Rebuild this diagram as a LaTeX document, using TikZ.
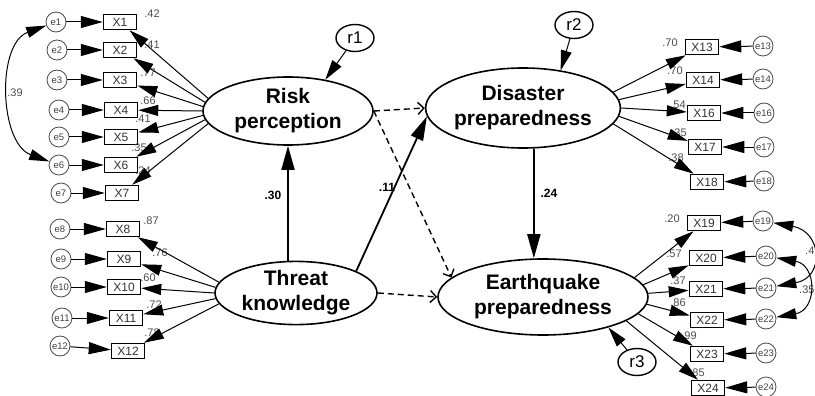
\documentclass[tikz,border=0pt]{standalone}
\usepackage{fontspec}
\setmainfont{Liberation Sans}
\usetikzlibrary{arrows.meta,shapes.geometric}
\begin{document}
\begin{tikzpicture}[x=1pt, y=-1pt,
    latent/.style ={ellipse, draw, line width=1.6pt, inner sep=0pt, align=center,
                    font=\fontsize{21}{25}\selectfont\bfseries},
    resid/.style ={ellipse, draw, line width=1.4pt, minimum width=38pt, minimum height=27pt,
                    inner sep=0pt, font=\fontsize{17}{17}\selectfont},
    item/.style ={rectangle, draw, line width=1.5pt, minimum width=33pt, minimum height=15pt,
                    inner sep=0pt, font=\fontsize{12}{12}\selectfont, text=black!80},
    err/.style ={circle, draw=black!70, line width=0.8pt, minimum size=20pt, inner sep=0pt,
                    font=\fontsize{9.5}{9.5}\selectfont, text=black!75},
    load/.style ={font=\fontsize{11}{11}\selectfont, text=black!70, inner sep=0pt},
    coef/.style ={font=\fontsize{12}{12}\selectfont\bfseries, inner sep=0pt},
    arr/.style ={line width=1pt, -{Triangle[length=20pt,width=11pt]}},
    earr/.style ={line width=1pt, -{Triangle[length=22pt,width=12pt]}},
    cov/.style ={line width=1pt, {Triangle[length=20pt,width=11pt]}-{Triangle[length=20pt,width=11pt]}},
    causal/.style ={line width=1.8pt, -{Triangle[length=24pt,width=13pt]}},
    dashpath/.style ={line width=1.4pt, dash pattern=on 6pt off 4pt,
                    -{Straight Barb[length=6pt,width=12pt]}}]
   \useasboundingbox (0,0) rectangle (815,396);

   % latent variables
   \node[latent, minimum width=170pt, minimum height=68pt] (Risk) at (288,111) {Risk\\perception};
   \node[latent, minimum width=162pt, minimum height=62pt] (Threat) at (296,293) {Threat\\knowledge};
   \node[latent, minimum width=180pt, minimum height=80pt] (Disaster) at (523,108) {Disaster\\preparedness};
   \node[latent, minimum width=210pt, minimum height=76pt] (Quake) at (543,297) {Earthquake\\preparedness};

   \node[resid] (r1) at (355,38) {r1};
   \node[resid] (r2) at (574,25) {r2};
   \node[resid] (r3) at (637,362) {r3};

   % risk perception items
   \node[item] (X1) at (120,22) {X1};
   \node[item] (X2) at (120,50) {X2};
   \node[item] (X3) at (120,80) {X3};
   \node[item] (X4) at (121,110) {X4};
   \node[item] (X5) at (121,137) {X5};
   \node[item] (X6) at (121,165) {X6};
   \node[item] (X7) at (122,193) {X7};
   \node[err] (e1) at (56,22) {e1};
   \node[err] (e2) at (57,50) {e2};
   \node[err] (e3) at (57,80) {e3};
   \node[err] (e4) at (59,110) {e4};
   \node[err] (e5) at (59,137) {e5};
   \node[err] (e6) at (59,165) {e6};
   \node[err] (e7) at (61,193) {e7};

   % threat knowledge items
   \node[item] (X8) at (123,229) {X8};
   \node[item] (X9) at (124,259) {X9};
   \node[item] (X10) at (124,287) {X10};
   \node[item] (X11) at (126,318) {X11};
   \node[item] (X12) at (128,351) {X12};
   \node[err] (e8) at (60,229) {e8};
   \node[err] (e9) at (61,259) {e9};
   \node[err] (e10) at (61,287) {e10};
   \node[err] (e11) at (62,318) {e11};
   \node[err] (e12) at (60,346) {e12};

   % disaster preparedness items
   \node[item] (X13) at (702,47) {X13};
   \node[item] (X14) at (703,80) {X14};
   \node[item] (X16) at (704,113) {X16};
   \node[item] (X17) at (705,147) {X17};
   \node[item] (X18) at (707,182) {X18};
   \node[err] (e13) at (763,46) {e13};
   \node[err] (e14) at (763,79) {e14};
   \node[err] (e16) at (764,113) {e16};
   \node[err] (e17) at (764,147) {e17};
   \node[err] (e18) at (764,181) {e18};

   % earthquake preparedness items
   \node[item] (X19) at (704,223) {X19};
   \node[item] (X20) at (706,258) {X20};
   \node[item] (X21) at (706,289) {X21};
   \node[item] (X22) at (707,320) {X22};
   \node[item] (X23) at (707,354) {X23};
   \node[item] (X24) at (708,388) {X24};
   \node[err] (e19) at (763,221) {e19};
   \node[err] (e20) at (766,256) {e20};
   \node[err] (e21) at (766,288) {e21};
   \node[err] (e22) at (766,319) {e22};
   \node[err] (e23) at (766,353) {e23};
   \node[err] (e24) at (766,387) {e24};

   % loadings
   \node[load] (l1) at (152,14) {.42};
   \node[load] (l2) at (152,45) {.41};
   \node[load] (l3) at (148,73) {.77};
   \node[load] (l4) at (148,101) {.66};
   \node[load] (l5) at (143,119) {.41};
   \node[load] (l6) at (139,148) {.35};
   \node[load] (l7) at (143,171) {.24};
   \node[load] (l8) at (151,221) {.87};
   \node[load] (l9) at (160,253) {.76};
   \node[load] (l10) at (148,278) {.60};
   \node[load] (l11) at (154,305) {.72};
   \node[load] (l12) at (152,333) {.78};
   \node[load] (l13) at (670,43) {.70};
   \node[load] (l14) at (675,71) {.70};
   \node[load] (l16) at (678,105) {.54};
   \node[load] (l17) at (679,133) {.35};
   \node[load] (l18) at (676,158) {.38};
   \node[load] (l19) at (672,219) {.20};
   \node[load] (l20) at (674,254) {.57};
   \node[load] (l21) at (678,281) {.37};
   \node[load] (l22) at (678,303) {.86};
   \node[load] (l23) at (689,336) {.99};
   \node[load] (l24) at (697,373) {.85};
   \node[load] (c1) at (15,93) {.39};
   \node[load, anchor=west] (c2) at (805,251) {.4};
   \node[load, anchor=west] (c3) at (799,290) {.35};

   \node[coef] (b1) at (273,195) {.30};
   \node[coef] (b2) at (387,187) {.11};
   \node[coef] (b3) at (549,193) {.24};

   % loadings arrows
   \draw[arr] (Risk.171) to (X1);
   \draw[arr] (Risk.174) to (X2);
   \draw[arr] (Risk.177) to (X3);
   \draw[arr] (Risk.180) to (X4);
   \draw[arr] (Risk.183) to (X5);
   \draw[arr] (Risk.186) to (X6);
   \draw[arr] (Risk.189) to (X7);
   \draw[arr] (Threat.172) to (X8);
   \draw[arr] (Threat.176) to (X9);
   \draw[arr] (Threat.180) to (X10);
   \draw[arr] (Threat.184) to (X11);
   \draw[arr] (Threat.188) to (X12);
   \draw[arr] (Disaster.10) to (X13);
   \draw[arr] (Disaster.5) to (X14);
   \draw[arr] (Disaster.0) to (X16);
   \draw[arr] (Disaster.-5) to (X17);
   \draw[arr] (Disaster.-10) to (X18);
   \draw[arr] (Quake.12) to (X19);
   \draw[arr] (Quake.7) to (X20);
   \draw[arr] (Quake.2) to (X21);
   \draw[arr] (Quake.-4) to (X22);
   \draw[arr] (Quake.-10) to (X23);
   \draw[arr] (Quake.-16) to (X24);

   % error arrows
   \draw[earr] (e1) to (X1);
   \draw[earr] (e2) to (X2);
   \draw[earr] (e3) to (X3);
   \draw[earr] (e4) to (X4);
   \draw[earr] (e5) to (X5);
   \draw[earr] (e6) to (X6);
   \draw[earr] (e7) to (X7);
   \draw[earr] (e8) to (X8);
   \draw[earr] (e9) to (X9);
   \draw[earr] (e10) to (X10);
   \draw[earr] (e11) to (X11);
   \draw[earr] (e12) to (X12);
   \draw[earr] (e13) to (X13);
   \draw[earr] (e14) to (X14);
   \draw[earr] (e16) to (X16);
   \draw[earr] (e17) to (X17);
   \draw[earr] (e18) to (X18);
   \draw[earr] (e19) to (X19);
   \draw[earr] (e20) to (X20);
   \draw[earr] (e21) to (X21);
   \draw[earr] (e22) to (X22);
   \draw[earr] (e23) to (X23);
   \draw[earr] (e24) to (X24);

   % covariances
   \draw[cov] (e1) to[out=200, in=160] (e6);
   \draw[cov] (e19) to[out=-10, in=10, looseness=2] (e21);
   \draw[cov] (e20) to[out=-10, in=10, looseness=1.8] (e22);

   % residuals
   \draw[arr] (r1) to (Risk.40);
   \draw[arr] (r2) to (Disaster.45);
   \draw[arr] (r3) to (Quake.-25);

   % structural paths
   \draw[causal] (Risk.south |- Threat.north) to (Risk.south);
   \draw[causal] (Threat.20) to (Disaster.185);
   \draw[causal] (Disaster.-75) to (Disaster.-75 |- Quake.north);
   \draw[dashpath] (Risk.east) to (Disaster.west);
   \draw[dashpath] (Risk.east) to (Quake.168);
   \draw[dashpath] (Threat.east) to (Quake.west);

 \end{tikzpicture}
\end{document}
